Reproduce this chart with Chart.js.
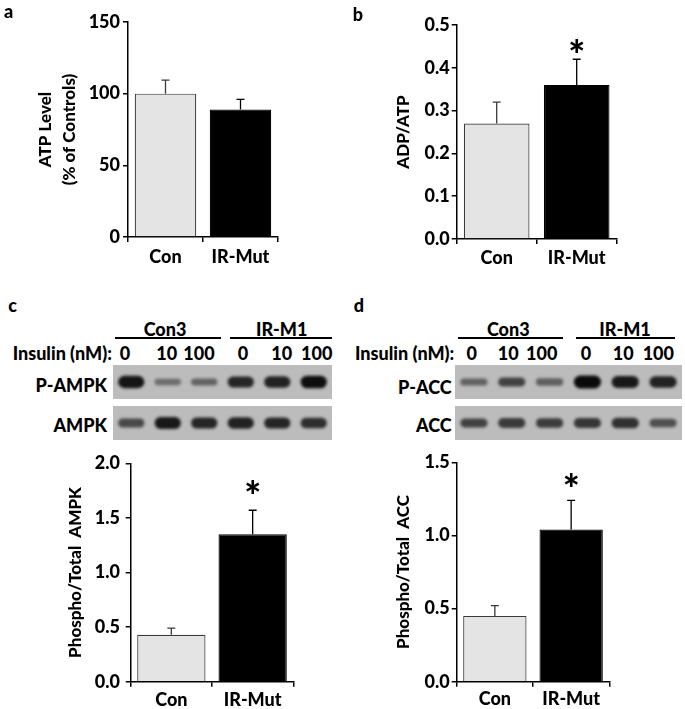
<!DOCTYPE html>
<html>
<head>
<meta charset="utf-8">
<script src="https://cdn.jsdelivr.net/npm/chart.js@4.4.0/dist/chart.umd.min.js"></script>
<style>
  body { margin: 0; background: #fff; }
  #fig { position: relative; width: 685px; height: 709px; overflow: hidden;
         font-family: Lato, sans-serif; font-weight: 900; color: #000; }
  #fig canvas { position: absolute; }
  .t { position: absolute; white-space: nowrap; line-height: 1; font-size: 18px; }
  .rule { position: absolute; height: 2px; background: #000; }
</style>
</head>
<body>
<div id="fig">
  <canvas id="chartA" width="290" height="285" style="left:0;top:0"></canvas>
  <canvas id="chartB" width="290" height="285" style="left:340px;top:0"></canvas>
  <canvas id="blotPAmpk" width="219" height="34" style="left:113px;top:365px"></canvas>
  <canvas id="blotAmpk" width="219" height="34" style="left:113px;top:406px"></canvas>
  <canvas id="blotPAcc" width="227" height="34" style="left:455px;top:365px"></canvas>
  <canvas id="blotAcc" width="227" height="34" style="left:455px;top:406px"></canvas>
  <canvas id="chartC" width="300" height="264" style="left:0;top:445px"></canvas>
  <canvas id="chartD" width="345" height="264" style="left:340px;top:445px"></canvas>
</div>
<script>
// --- data ---
const groups = ['Con', 'IR-Mut'];

const atpMean = [100, 89];
const atpSem = [9.5, 7];
const atpTicks = [0, 50, 100, 150];

const ratioMean = [0.27, 0.36];
const ratioSem = [0.05, 0.06];
const ratioTicks = [0, 0.1, 0.2, 0.3, 0.4, 0.5];

const ampkMean = [0.43, 1.35];
const ampkSem = [0.06, 0.22];
const ampkTicks = [0, 0.5, 1, 1.5, 2];

const accMean = [0.45, 1.04];
const accSem = [0.07, 0.2];
const accTicks = [0, 0.5, 1, 1.5];

const noStar = [false, false];
const mutStar = [false, true];

// western blots: 6 lanes, band strength 0..1
const cellLines = ['Con3', 'IR-M1'];
const doses = ['0', '10', '100', '0', '10', '100'];
const pAmpkBands = [0.92, 0.22, 0.28, 0.78, 0.82, 0.97];
const ampkBands = [0.5, 0.88, 0.78, 0.82, 0.78, 0.72];
const pAccBands = [0.3, 0.55, 0.32, 1.0, 0.88, 0.82];
const accBands = [0.55, 0.62, 0.6, 0.65, 0.7, 0.45];

const W = 900; // heavy weight, closest to the Calibri bold of the figure
Chart.defaults.font.family = 'Lato';
Chart.defaults.font.weight = W;
Chart.defaults.color = '#000';

const errorBars = {
  id: 'errorBars',
  afterDatasetsDraw(chart, args, opts) {
    const { ctx, scales: { y } } = chart;
    const ds = chart.data.datasets[0];
    chart.getDatasetMeta(0).data.forEach((bar, i) => {
      const top = y.getPixelForValue(ds.data[i] + ds.sem[i]);
      ctx.save();
      ctx.strokeStyle = i === 0 ? '#3a3a3a' : '#000';
      ctx.lineWidth = 1.3;
      ctx.beginPath();
      ctx.moveTo(bar.x, bar.y);
      ctx.lineTo(bar.x, top);
      ctx.moveTo(bar.x - 4, top);
      ctx.lineTo(bar.x + 4, top);
      ctx.stroke();
      if (ds.stars[i]) {
        ctx.font = '900 40px Lato';
        ctx.fillStyle = '#000';
        ctx.textAlign = 'center';
        ctx.textBaseline = 'alphabetic';
        const m = ctx.measureText('*');
        const cy = top - opts.gap;
        ctx.fillText('*', bar.x, cy + (m.actualBoundingBoxAscent - m.actualBoundingBoxDescent) / 2);
      }
      ctx.restore();
    });
  }
};

function barChart(id, c) {
  const font = { family: 'Lato', weight: W, size: 18 };
  const axisGrid = { drawOnChartArea: false, drawTicks: true, tickLength: 5, color: '#000', lineWidth: 1.5 };
  return new Chart(document.getElementById(id), {
    type: 'bar',
    data: {
      labels: groups,
      datasets: [{
        data: c.mean,
        sem: c.sem,
        stars: c.stars,
        backgroundColor: ['#e4e4e4', '#000'],
        borderColor: ['#3a3a3a', '#000'],
        borderWidth: 1.2,
        barPercentage: c.barPct,
        categoryPercentage: 1
      }]
    },
    options: {
      responsive: false,
      animation: false,
      devicePixelRatio: 1,
      layout: { autoPadding: false, padding: c.pad },
      plugins: {
        legend: { display: false },
        tooltip: { enabled: false },
        errorBars: { gap: c.gap }
      },
      scales: {
        x: {
          offset: true,
          grid: Object.assign({ offset: true }, axisGrid),
          border: { display: true, color: '#000', width: 1.5 },
          ticks: { color: '#000', font, padding: c.xPad },
          afterFit: s => { s.height = c.xH; }
        },
        y: {
          min: c.ticks[0],
          max: c.ticks[c.ticks.length - 1],
          grid: axisGrid,
          border: { display: true, color: '#000', width: 1.5 },
          ticks: { color: '#000', font, padding: c.yPad, callback: c.fmt },
          afterBuildTicks: s => { s.ticks = c.ticks.map(v => ({ value: v })); },
          title: {
            display: true, text: c.title, color: '#000',
            font: { family: 'Lato', weight: W, size: 17, lineHeight: 1.45 },
            padding: { top: c.titlePad, bottom: 0 }
          },
          afterFit: s => { s.width = c.yW; }
        }
      }
    },
    plugins: [errorBars]
  });
}

const oneDec = v => v.toFixed(1);

barChart('chartA', {
  mean: atpMean, sem: atpSem, stars: noStar, ticks: atpTicks, fmt: v => String(v),
  title: ['ATP Level', '(% of Controls)'], titlePad: 32.7,
  pad: { left: 0, top: 22, right: 12, bottom: 0 }, yW: 128, xH: 48, xPad: 4, yPad: 3,
  barPct: 0.82, gap: 14
});
barChart('chartB', {
  mean: ratioMean, sem: ratioSem, stars: mutStar, ticks: ratioTicks, fmt: oneDec,
  title: 'ADP/ATP', titlePad: 50.7,
  pad: { left: 0, top: 25, right: 13.3, bottom: 0 }, yW: 116.7, xH: 46, xPad: 3, yPad: 2,
  barPct: 0.82, gap: 13
});
barChart('chartC', {
  mean: ampkMean, sem: ampkSem, stars: mutStar, ticks: ampkTicks, fmt: oneDec,
  title: 'Phospho/Total  AMPK', titlePad: 62.7,
  pad: { left: 0, top: 18.3, right: 6.7, bottom: 0 }, yW: 130.7, xH: 27.3, xPad: 2.5, yPad: 5.7,
  barPct: 0.84, gap: 23.6
});
barChart('chartD', {
  mean: accMean, sem: accSem, stars: mutStar, ticks: accTicks, fmt: oneDec,
  title: 'Phospho/Total  ACC', titlePad: 51,
  pad: { left: 0, top: 17.3, right: 75.7, bottom: 0 }, yW: 116.7, xH: 27.3, xPad: 1.5, yPad: 2,
  barPct: 0.83, gap: 20
});

// blot strips
const blotLook = {
  id: 'blotLook',
  beforeDraw(chart) {
    const { ctx, width, height } = chart;
    ctx.save();
    ctx.fillStyle = '#bcbcbc';
    ctx.fillRect(0, 0, width, height);
    ctx.restore();
  },
  beforeDatasetsDraw(chart) { chart.ctx.save(); chart.ctx.filter = 'blur(1.6px)'; },
  afterDatasetsDraw(chart) { chart.ctx.restore(); }
};

function blot(id, bands) {
  new Chart(document.getElementById(id), {
    type: 'bar',
    data: {
      labels: doses.map((d, i) => i + 1),
      datasets: [{
        data: bands.map(v => [0.5 - 0.07 - 0.12 * v, 0.5 + 0.07 + 0.12 * v]),
        backgroundColor: bands.map(v => `rgba(10,10,10,${(0.3 + 0.7 * v).toFixed(2)})`),
        borderRadius: 30,
        borderSkipped: false,
        barPercentage: 0.72,
        categoryPercentage: 1
      }]
    },
    options: {
      responsive: false, animation: false, devicePixelRatio: 1,
      layout: { padding: 0, autoPadding: false },
      plugins: { legend: { display: false }, tooltip: { enabled: false } },
      scales: { x: { display: false }, y: { display: false, min: 0, max: 1 } }
    },
    plugins: [blotLook]
  });
}

blot('blotPAmpk', pAmpkBands);
blot('blotAmpk', ampkBands);
blot('blotPAcc', pAccBands);
blot('blotAcc', accBands);

// text around the blots
const fig = document.getElementById('fig');
function text(str, x, y, anchor) {
  const d = document.createElement('div');
  d.className = 't';
  d.textContent = str;
  d.style.left = x + 'px';
  d.style.top = y + 'px';
  const tx = anchor === 'right' ? '-100%' : anchor === 'left' ? '0' : '-50%';
  d.style.transform = `translate(${tx}, -50%)`;
  fig.appendChild(d);
}
function rule(x0, x1, y) {
  const d = document.createElement('div');
  d.className = 'rule';
  d.style.left = x0 + 'px';
  d.style.width = (x1 - x0) + 'px';
  d.style.top = y + 'px';
  fig.appendChild(d);
}

text('a', 8.7, 11.3);
text('b', 358, 14);
text('c', 12.5, 305);
text('d', 359, 305);

const panels = [
  { lineX: [165, 281.7], rules: [[115, 220.7], [230, 331.7]], insulinX: 12.7,
    doseX: [125, 166.7, 199, 243, 281.7, 316.7], labelRight: 107,
    rows: [['P-AMPK', 385], ['AMPK', 425]] },
  { lineX: [508.3, 625], rules: [[458.3, 563.3], [576, 675]], insulinX: 355,
    doseX: [471.7, 508.3, 541.7, 586, 623.3, 658.3], labelRight: 451.7,
    rows: [['P-ACC', 387], ['ACC', 425]] }
];
panels.forEach(p => {
  cellLines.forEach((name, i) => {
    text(name, p.lineX[i], 329);
    rule(p.rules[i][0], p.rules[i][1], 336.5);
  });
  text('Insulin (nM):', p.insulinX, 353, 'left');
  doses.forEach((d, i) => text(d, p.doseX[i], 353));
  p.rows.forEach(r => text(r[0], p.labelRight, r[1], 'right'));
});
</script>
</body>
</html>
